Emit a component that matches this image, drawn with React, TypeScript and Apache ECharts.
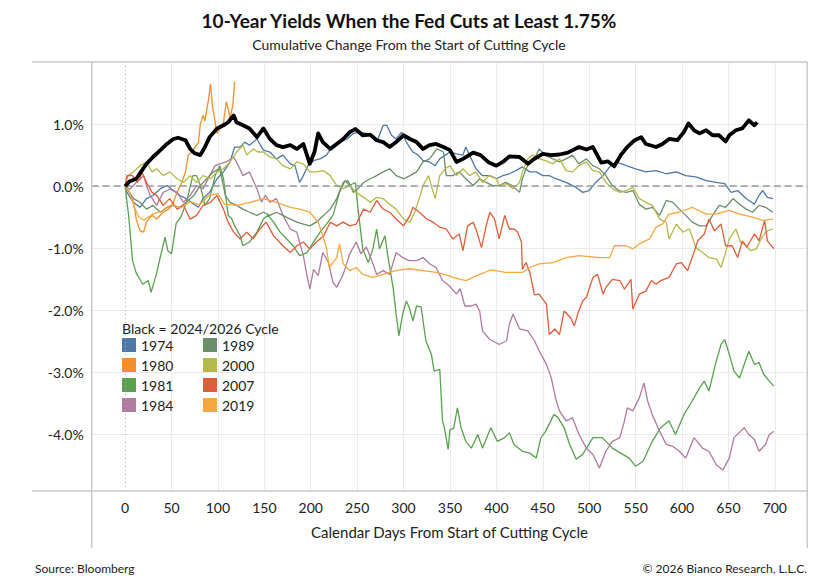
import React, { useEffect, useRef } from "react";
import * as echarts from "echarts";

const TITLE = "10-Year Yields When the Fed Cuts at Least 1.75%";
const SUBTITLE = "Cumulative Change From the Start of Cutting Cycle";
const X_NAME = "Calendar Days From Start of Cutting Cycle";
const LEGEND_TITLE = "Black = 2024/2026 Cycle";
const SOURCE = "Source: Bloomberg";
const COPYRIGHT = "\u00a9 2026 Bianco Research, L.L.C.";

const X_TICKS = [0, 50, 100, 150, 200, 250, 300, 350, 400, 450, 500, 550, 600, 650, 700];
const Y_TICKS = [-4, -3, -2, -1, 0, 1];
const LEGEND_LEFT = ["1974", "1980", "1981", "1984"];
const LEGEND_RIGHT = ["1989", "2000", "2007", "2019"];

const S2024 = [[0,0],[5,0.08],[12,0.12],[18,0.25],[23,0.36],[30,0.47],[38,0.58],[45,0.68],[52,0.76],[57,0.78],[65,0.74],[70,0.6],[75,0.53],[81,0.5],[86,0.63],[91,0.79],[99,0.93],[106,0.98],[111,1.03],[117,1.14],[120,1.03],[127,0.98],[134,0.93],[142,0.79],[149,0.93],[156,0.76],[163,0.66],[170,0.63],[178,0.66],[185,0.6],[192,0.68],[199,0.36],[204,0.55],[208,0.85],[213,0.71],[221,0.6],[228,0.68],[235,0.76],[242,0.87],[248,0.92],[256,0.82],[264,0.83],[271,0.74],[278,0.71],[285,0.63],[292,0.71],[300,0.82],[307,0.76],[314,0.71],[321,0.6],[328,0.66],[335,0.68],[343,0.63],[350,0.58],[357,0.39],[364,0.44],[375,0.54],[383,0.5],[392,0.38],[400,0.33],[407,0.39],[414,0.48],[425,0.47],[434,0.36],[441,0.44],[450,0.52],[459,0.5],[468,0.51],[477,0.54],[489,0.63],[497,0.59],[504,0.63],[513,0.38],[520,0.4],[527,0.32],[534,0.5],[541,0.63],[549,0.74],[556,0.79],[561,0.68],[572,0.63],[579,0.68],[586,0.76],[595,0.74],[602,0.87],[607,1.01],[613,0.9],[619,0.85],[626,0.9],[633,0.82],[640,0.82],[647,0.72],[651,0.82],[658,0.9],[665,0.93],[672,1.06],[678,0.98],[681,1.03]];

const S1974 = [[0,0],[2,-0.1],[9,-0.26],[16,-0.34],[23,-0.2],[30,-0.15],[38,-0.04],[45,0.01],[52,-0.07],[59,-0.15],[66,-0.2],[74,-0.29],[79,-0.34],[84,-0.2],[91,-0.1],[99,0.12],[106,0.23],[113,0.39],[118,0.63],[124,0.63],[129,0.71],[134,0.66],[142,0.76],[149,0.58],[156,0.55],[163,0.44],[170,0.5],[178,0.36],[183,0.33],[188,0.06],[192,0.17],[197,0.33],[203,0.41],[210,0.44],[217,0.5],[224,0.66],[231,0.71],[239,0.76],[246,0.85],[253,0.87],[260,0.85],[267,0.82],[272,0.74],[278,0.98],[282,0.98],[287,0.82],[292,0.76],[298,0.87],[303,0.71],[310,0.55],[316,0.5],[321,0.41],[328,0.39],[334,0.33],[339,0.44],[345,0.5],[350,0.55],[357,0.52],[364,0.5],[367,0.63],[373,0.44],[378,0.28],[385,0.17],[393,0.17],[400,0.12],[407,0.17],[414,0.2],[421,0.25],[428,0.31],[436,0.23],[443,0.23],[450,0.17],[457,0.17],[464,0.12],[475,0.06],[486,-0.02],[493,-0.1],[500,-0.07],[507,0.06],[515,0.17],[522,0.31],[529,0.39],[540,0.33],[550,0.28],[561,0.23],[572,0.25],[583,0.2],[594,0.23],[604,0.17],[615,0.15],[626,0.09],[637,0.06],[646,0.04],[653,-0.1],[660,-0.07],[669,-0.2],[678,-0.29],[683,-0.15],[687,-0.07],[692,-0.18],[698,-0.2]];

const S1980 = [[0,0],[5,-0.1],[9,-0.26],[12,-0.53],[16,-0.72],[20,-0.74],[23,-0.58],[29,-0.47],[34,-0.53],[41,-0.42],[47,-0.37],[52,-0.26],[56,-0.1],[61,0.06],[65,0.23],[68,0.5],[72,0.55],[76,0.65],[79,0.7],[81,1.0],[84,1.14],[86,1.05],[90,1.41],[92,1.65],[94,1.3],[97,1.03],[99,0.85],[102,0.92],[106,1.03],[109,1.36],[111,1.25],[113,1.09],[116,1.3],[118,1.68]];

const S1981 = [[0,0],[4,-0.5],[8,-1.2],[12,-1.4],[19,-1.58],[25,-1.52],[28,-1.71],[34,-1.4],[37,-1.2],[43,-0.82],[46,-1.04],[50,-1.09],[55,-0.6],[60,-0.5],[66,-0.26],[73,0.17],[77,0.17],[81,0.01],[86,-0.31],[91,-0.2],[97,0.17],[102,0.33],[106,0.12],[111,-0.47],[115,-0.53],[118,-0.64],[124,-0.8],[127,-0.96],[134,-0.9],[142,-0.74],[149,-0.53],[154,-0.47],[160,-0.58],[167,-0.74],[174,-0.85],[181,-0.96],[188,-1.12],[196,-1.07],[203,-0.9],[210,-0.74],[217,-0.61],[224,-0.47],[231,-0.1],[237,0.09],[242,0.01],[248,0.06],[251,-0.37],[256,-1.01],[262,-1.23],[267,-1.01],[271,-0.69],[274,-1.01],[280,-0.8],[283,-1.12],[289,-1.66],[292,-2.06],[295,-2.41],[299,-2.06],[303,-1.85],[306,-1.95],[310,-2.17],[314,-1.93],[319,-1.95],[324,-2.49],[330,-2.71],[333,-2.98],[339,-2.95],[342,-3.78],[344,-3.89],[348,-4.24],[350,-3.92],[354,-3.9],[358,-3.57],[362,-3.89],[367,-4.11],[373,-4.22],[380,-4.0],[385,-4.22],[394,-3.89],[401,-4.11],[409,-4.05],[414,-3.97],[419,-4.16],[428,-4.27],[436,-4.3],[443,-4.38],[448,-4.05],[453,-3.95],[462,-3.68],[466,-3.72],[473,-3.89],[479,-4.16],[486,-4.4],[493,-4.32],[504,-4.05],[514,-4.05],[525,-4.22],[534,-4.3],[543,-4.38],[550,-4.51],[558,-4.43],[568,-4.11],[577,-3.89],[586,-3.78],[593,-4.0],[602,-3.68],[611,-3.46],[619,-3.25],[624,-3.14],[629,-3.3],[636,-2.87],[642,-2.55],[646,-2.47],[651,-2.71],[656,-2.98],[662,-3.09],[667,-2.87],[672,-2.66],[678,-2.87],[683,-2.84],[688,-3.03],[694,-3.14],[699,-3.22]];

const S1984 = [[0,0],[5,-0.05],[12,0.06],[20,0.17],[23,0.01],[27,-0.15],[34,-0.31],[41,-0.1],[48,-0.05],[56,-0.1],[63,-0.26],[70,-0.15],[77,0.01],[84,-0.04],[91,0.17],[97,0.33],[102,0.36],[109,0.39],[117,0.47],[122,0.33],[127,0.17],[134,0.23],[142,-0.04],[147,-0.26],[151,-0.15],[156,-0.26],[163,-0.2],[170,-0.47],[178,-0.69],[185,-0.74],[192,-1.12],[196,-1.44],[199,-1.66],[203,-1.34],[208,-1.44],[213,-1.07],[219,-1.23],[224,-1.55],[228,-1.63],[235,-1.42],[242,-1.09],[249,-0.9],[254,-1.09],[260,-0.98],[267,-1.25],[271,-1.42],[278,-1.36],[285,-1.42],[292,-1.07],[299,-1.15],[306,-1.2],[314,-1.2],[321,-1.15],[328,-1.25],[335,-1.31],[342,-1.52],[349,-1.6],[357,-1.74],[361,-1.65],[366,-1.93],[373,-1.93],[378,-1.9],[382,-2.01],[385,-2.33],[393,-2.47],[403,-2.55],[411,-2.49],[414,-2.22],[418,-2.06],[425,-2.3],[434,-2.33],[441,-2.49],[446,-2.65],[454,-2.87],[459,-3.08],[464,-3.43],[468,-3.62],[475,-3.78],[482,-3.73],[489,-4.0],[497,-4.22],[504,-4.32],[511,-4.54],[518,-4.27],[525,-4.11],[533,-4.05],[538,-3.78],[541,-3.57],[547,-3.62],[554,-3.41],[559,-3.17],[563,-3.46],[568,-3.68],[576,-3.95],[583,-4.16],[590,-4.19],[597,-4.27],[604,-4.38],[613,-4.05],[622,-4.22],[629,-4.27],[637,-4.49],[644,-4.57],[651,-4.38],[656,-4.05],[663,-3.95],[667,-3.89],[672,-4.0],[678,-4.08],[683,-4.27],[690,-4.16],[694,-4.0],[699,-3.95]];

const S1989 = [[0,0],[9,-0.2],[16,-0.26],[23,-0.37],[30,-0.31],[38,-0.42],[45,-0.34],[52,-0.31],[59,-0.34],[66,-0.26],[74,-0.15],[81,0.01],[88,0.12],[95,0.23],[102,0.28],[108,-0.15],[113,-0.26],[120,-0.31],[127,-0.37],[134,-0.42],[142,-0.47],[149,-0.42],[156,-0.47],[163,-0.42],[170,-0.47],[178,-0.53],[185,-0.58],[192,-0.61],[199,-0.64],[206,-0.58],[214,-0.47],[221,-0.37],[228,-0.2],[235,0.06],[240,0.09],[246,-0.1],[251,-0.04],[257,0.06],[264,0.12],[271,0.17],[278,0.23],[285,0.28],[292,0.17],[300,0.12],[307,0.17],[314,0.23],[321,0.39],[328,0.44],[336,0.6],[343,0.55],[346,0.17],[353,0.17],[360,0.23],[367,0.12],[375,0.01],[382,0.12],[389,0.06],[396,0.01],[403,0.01],[410,0.06],[417,0.01],[425,-0.1],[428,0.12],[432,0.28],[437,0.41],[443,0.5],[446,0.6],[453,0.5],[461,0.44],[468,0.39],[475,0.44],[482,0.5],[489,0.36],[497,0.44],[504,0.33],[511,0.28],[518,0.17],[525,0.01],[532,-0.07],[540,-0.1],[547,-0.07],[554,-0.29],[561,-0.37],[568,-0.34],[576,-0.47],[583,-0.23],[590,-0.26],[597,-0.37],[604,-0.47],[611,-0.58],[619,-0.64],[626,-0.64],[633,-0.47],[640,-0.31],[647,-0.34],[655,-0.2],[662,-0.29],[669,-0.37],[676,-0.42],[683,-0.31],[690,-0.34],[698,-0.42]];

const S2000 = [[0,0],[3,0.17],[9,0.23],[16,0.33],[23,0.39],[29,0.23],[34,0.28],[41,0.17],[48,0.23],[56,0.12],[63,0.06],[70,0.17],[77,0.06],[84,0.17],[92,0.12],[99,0.23],[106,0.28],[113,0.39],[120,0.55],[127,0.66],[131,0.5],[138,0.6],[143,0.55],[149,0.55],[156,0.47],[163,0.44],[170,0.33],[178,0.28],[185,0.39],[192,0.36],[199,0.23],[206,0.23],[214,0.25],[221,0.17],[228,0.01],[235,-0.04],[242,0.01],[249,-0.1],[257,-0.18],[264,-0.26],[271,-0.18],[278,-0.2],[285,-0.29],[292,-0.37],[300,-0.53],[307,-0.58],[312,-0.42],[318,-0.15],[321,0.01],[327,0.17],[330,0.0],[334,-0.2],[339,0.17],[345,0.28],[350,0.33],[357,0.17],[364,0.28],[371,0.17],[378,0.23],[385,0.06],[392,0.17],[400,0.12],[403,0.01],[410,0.04],[418,-0.04],[425,0.06],[428,0.23],[434,0.44],[439,0.5],[446,0.44],[453,0.41],[461,0.36],[468,0.44],[475,0.25],[482,0.23],[489,0.33],[497,0.39],[504,0.25],[511,0.23],[518,0.06],[525,-0.04],[533,-0.1],[540,-0.07],[547,-0.02],[554,-0.2],[561,-0.26],[568,-0.31],[576,-0.53],[583,-0.58],[586,-0.85],[594,-0.61],[601,-0.74],[608,-0.69],[615,-0.99],[622,-1.07],[629,-1.15],[637,-1.17],[642,-1.31],[646,-1.12],[651,-0.85],[658,-0.69],[663,-0.9],[669,-0.96],[674,-1.04],[680,-1.01],[687,-0.8],[692,-0.72],[698,-0.69]];

const S2007 = [[0,0],[2,0.17],[8,0.17],[13,0.06],[16,0.12],[18,0.23],[23,0.06],[29,-0.1],[34,-0.15],[41,-0.31],[48,-0.2],[56,-0.37],[63,-0.31],[70,-0.53],[77,-0.47],[84,-0.31],[92,-0.26],[99,-0.15],[106,-0.37],[111,-0.58],[117,-0.74],[124,-0.85],[131,-0.74],[138,-0.85],[145,-0.69],[152,-0.58],[160,-0.8],[165,-0.88],[170,-0.96],[178,-1.07],[185,-0.96],[192,-0.9],[199,-1.01],[206,-0.9],[214,-0.8],[221,-0.58],[228,-0.64],[235,-0.58],[242,-0.64],[249,-0.61],[257,-0.37],[264,-0.42],[271,-0.23],[278,-0.37],[285,-0.42],[292,-0.53],[300,-0.64],[307,-0.47],[310,-0.34],[317,-0.42],[325,-0.53],[332,-0.58],[339,-0.66],[346,-0.69],[353,-0.85],[360,-0.77],[364,-1.04],[369,-0.64],[375,-0.58],[378,-0.69],[384,-0.99],[389,-0.64],[393,-0.42],[398,-0.53],[403,-0.85],[409,-0.47],[414,-0.69],[419,-0.69],[423,-0.74],[427,-0.9],[428,-1.34],[432,-1.23],[436,-1.39],[441,-1.75],[446,-1.74],[454,-1.9],[457,-2.39],[463,-2.3],[468,-2.39],[473,-2.01],[480,-2.12],[484,-2.25],[488,-2.04],[493,-1.85],[497,-1.79],[504,-1.47],[509,-1.42],[515,-1.74],[518,-1.63],[525,-1.5],[533,-1.52],[538,-1.66],[545,-1.5],[547,-1.98],[554,-1.74],[561,-1.69],[567,-1.52],[572,-1.58],[577,-1.52],[586,-1.47],[594,-1.25],[599,-1.23],[606,-1.36],[611,-1.15],[617,-0.88],[624,-0.77],[629,-0.53],[635,-0.72],[642,-0.61],[647,-0.96],[654,-0.96],[660,-1.15],[665,-0.88],[670,-0.98],[678,-0.77],[683,-0.88],[689,-0.55],[692,-0.88],[699,-1.01]];

const S2019 = [[0,0],[5,-0.1],[10,-0.35],[15,-0.5],[20,-0.55],[30,-0.45],[40,-0.4],[50,-0.3],[60,-0.35],[70,-0.25],[80,-0.3],[90,-0.15],[100,-0.12],[107,-0.29],[120,-0.31],[135,-0.26],[149,-0.2],[163,-0.26],[178,-0.34],[188,-0.37],[199,-0.42],[208,-0.58],[213,-0.8],[217,-1.0],[220,-1.31],[228,-1.15],[231,-0.93],[235,-1.25],[242,-1.36],[249,-1.31],[256,-1.42],[267,-1.47],[278,-1.42],[292,-1.36],[306,-1.33],[321,-1.36],[335,-1.39],[349,-1.44],[353,-1.47],[367,-1.52],[382,-1.42],[394,-1.35],[410,-1.39],[428,-1.39],[436,-1.31],[446,-1.25],[461,-1.23],[475,-1.15],[489,-1.12],[511,-1.15],[522,-1.15],[527,-0.96],[540,-0.96],[547,-1.01],[554,-0.93],[565,-0.85],[572,-0.66],[579,-0.61],[586,-0.45],[597,-0.42],[611,-0.34],[626,-0.45],[636,-0.45],[651,-0.39],[662,-0.45],[676,-0.5],[687,-0.55],[698,-0.53]];

const SERIES = [
  { name: "1974", color: "#4e79a7", data: S1974 },
  { name: "1980", color: "#f28e2b", data: S1980 },
  { name: "1981", color: "#59a14f", data: S1981 },
  { name: "1984", color: "#b07aa1", data: S1984 },
  { name: "1989", color: "#6b8e6b", data: S1989 },
  { name: "2000", color: "#b5b84a", data: S2000 },
  { name: "2007", color: "#e15c39", data: S2007 },
  { name: "2019", color: "#f6a840", data: S2019 },
];

const FONT = "Lato";
const GRID_COLOR = "#ebebeb";
const FRAME_COLOR = "#c9c9c9";

function frameLine(x1: number, y1: number, x2: number, y2: number) {
  return {
    type: "line",
    silent: true,
    z: 50,
    shape: { x1, y1, x2, y2 },
    style: { stroke: FRAME_COLOR, lineWidth: 1.5 },
  };
}

function label(text: string, x: number, y: number, size: number, align: string, color = "#222") {
  return {
    type: "text",
    silent: true,
    z: 50,
    x,
    y,
    style: { text, fontSize: size, fontFamily: FONT, fill: color, align, verticalAlign: "middle" },
  };
}

export default function App() {
  const ref = useRef<HTMLDivElement>(null);

  useEffect(() => {
    document.body.style.margin = "0";
    const chart = echarts.init(ref.current as HTMLDivElement, null, { renderer: "svg", width: 818, height: 583 });

    const xGridColors = X_TICKS.map((v) => (v === 0 ? "rgba(0,0,0,0)" : GRID_COLOR));

    const lineSeries: any[] = SERIES.map((s) => ({
      name: s.name,
      type: "line",
      data: s.data,
      color: s.color,
      showSymbol: false,
      symbol: "none",
      lineStyle: { width: 1.3, color: s.color },
      itemStyle: { color: s.color },
      z: 2,
      silent: true,
    }));

    lineSeries.push({
      name: "ref",
      type: "line",
      data: [[0, 0]],
      showSymbol: false,
      symbol: "none",
      lineStyle: { opacity: 0 },
      z: 4,
      silent: true,
      markLine: {
        silent: true,
        symbol: "none",
        label: { show: false },
        data: [
          { yAxis: 0, lineStyle: { type: [7, 4], color: "#999999", width: 1.6 } },
          { xAxis: 0, lineStyle: { type: [1, 3], color: "#b0b0b0", width: 1 } },
        ],
      },
    });

    lineSeries.push({
      name: "2024/2026",
      type: "line",
      data: S2024,
      color: "#000",
      showSymbol: false,
      symbol: "none",
      lineStyle: { width: 3.8, color: "#000", join: "round" },
      z: 10,
      silent: true,
    });

    const legendBase = {
      orient: "vertical",
      top: 338,
      itemWidth: 14,
      itemHeight: 14,
      itemGap: 6,
      icon: "rect",
      padding: 0,
      selectedMode: false,
      textStyle: { fontSize: 14, color: "#222", fontFamily: FONT },
    };

    const option: any = {
      animation: false,
      textStyle: { fontFamily: FONT },
      title: [
        {
          text: TITLE,
          left: "center",
          top: 11,
          padding: 0,
          textStyle: { fontSize: 19, fontWeight: "bold", color: "#111", fontFamily: FONT },
        },
        {
          text: SUBTITLE,
          left: "center",
          top: 37,
          padding: 0,
          textStyle: { fontSize: 14, fontWeight: "normal", color: "#222", fontFamily: FONT },
        },
      ],
      legend: [
        { ...legendBase, left: 122, data: LEGEND_LEFT },
        { ...legendBase, left: 203, data: LEGEND_RIGHT },
      ],
      grid: { left: 91.7, right: 10.7, top: 62, bottom: 92, containLabel: false },
      xAxis: {
        type: "value",
        min: -36,
        max: 735,
        axisLine: { show: false },
        axisTick: { show: false, customValues: X_TICKS },
        axisLabel: {
          customValues: X_TICKS,
          fontSize: 14,
          color: "#222",
          fontFamily: FONT,
          margin: 9,
        },
        splitLine: { show: true, lineStyle: { color: xGridColors, width: 1 } },
        name: X_NAME,
        nameLocation: "middle",
        nameGap: 33,
        nameTextStyle: { fontSize: 15, color: "#222", fontFamily: FONT },
      },
      yAxis: {
        type: "value",
        min: -4.91,
        max: 2,
        axisLine: { show: false },
        axisTick: { show: false, customValues: Y_TICKS },
        axisLabel: {
          customValues: Y_TICKS,
          formatter: (v: number) => (Math.abs(v) < 1e-9 ? "0.0" : v.toFixed(1)) + "%",
          fontSize: 14,
          color: "#222",
          fontFamily: FONT,
          margin: 8,
        },
        splitLine: { show: true, lineStyle: { color: GRID_COLOR, width: 1 } },
      },
      graphic: [
        frameLine(32, 62, 807.3, 62),
        frameLine(32, 491, 807.3, 491),
        frameLine(91.7, 62, 91.7, 548),
        frameLine(807.3, 62, 807.3, 548),
        label(LEGEND_TITLE, 122, 328, 14, "left"),
        label(SOURCE, 35, 568, 12, "left"),
        label(COPYRIGHT, 807, 568, 12, "right"),
      ],
      series: lineSeries,
    };

    chart.setOption(option);
    return () => chart.dispose();
  }, []);

  return <div ref={ref} style={{ width: 818, height: 583 }} />;
}
